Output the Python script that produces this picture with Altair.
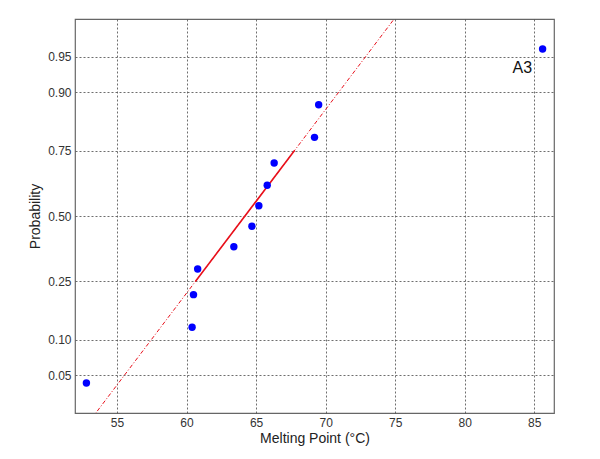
import altair as alt
import pandas as pd
from statistics import NormalDist

nd = NormalDist()

# Data
melting = [52.8, 60.4, 60.5, 60.8, 63.4, 64.7, 65.2, 65.8, 66.3, 69.2, 69.5, 85.6]
prob = [0.042, 0.125, 0.208, 0.292, 0.375, 0.458, 0.542, 0.625, 0.708, 0.792, 0.875, 0.958]
prob_ticks = [0.05, 0.10, 0.25, 0.50, 0.75, 0.90, 0.95]
x_ticks = [55, 60, 65, 70, 75, 80, 85]
x_domain = [51.98, 86.42]
p_domain = [0.0208, 0.9792]
quartile_x = [60.65, 67.75]
quartile_p = [0.25, 0.75]
label_text = ["A3"]
label_x = [84.85]
label_p = [0.931]

z_ticks = [nd.inv_cdf(p) for p in prob_ticks]
z_domain = [nd.inv_cdf(p) for p in p_domain]
qz = [nd.inv_cdf(p) for p in quartile_p]
slope = (qz[1] - qz[0]) / (quartile_x[1] - quartile_x[0])

pts = pd.DataFrame({"x": melting, "z": [nd.inv_cdf(p) for p in prob]})
solid = pd.DataFrame({"x": quartile_x, "z": qz})
ext_x = [min(melting), max(melting)]
dashed = pd.DataFrame({"x": ext_x, "z": [qz[0] + slope * (v - quartile_x[0]) for v in ext_x]})
lab = pd.DataFrame({"x": label_x, "z": [nd.inv_cdf(p) for p in label_p], "t": label_text})

xs = alt.Scale(domain=x_domain, nice=False, zero=False)
ys = alt.Scale(domain=z_domain, nice=False, zero=False)

x_axis = alt.Axis(values=x_ticks, title="Melting Point (°C)", labelPadding=4,
                  titlePadding=3)
y_axis = alt.Axis(values=z_ticks, title="Probability",
                  labelExpr="format(cumulativeNormal(datum.value), '.2f')",
                  labelPadding=4, titlePadding=5)

base_x = alt.X("x:Q", scale=xs, axis=x_axis)
base_y = alt.Y("z:Q", scale=ys, axis=y_axis)

points = alt.Chart(pts).mark_circle(size=55, color="#0000ff", opacity=1).encode(
    x=base_x, y=base_y)

dash_line = alt.Chart(dashed).mark_line(color="#e8101b", strokeWidth=1,
                                        strokeDash=[4, 2, 1, 2], clip=True).encode(
    x=alt.X("x:Q", scale=xs), y=alt.Y("z:Q", scale=ys))

solid_line = alt.Chart(solid).mark_line(color="#e8101b", strokeWidth=1.6).encode(
    x=alt.X("x:Q", scale=xs), y=alt.Y("z:Q", scale=ys))

text = alt.Chart(lab).mark_text(align="right", baseline="alphabetic", fontSize=16,
                                font="Liberation Sans", color="#111").encode(
    x=alt.X("x:Q", scale=xs), y=alt.Y("z:Q", scale=ys), text="t:N")

chart = alt.layer(dash_line, solid_line, points, text).properties(
    width=479, height=394,
    autosize=alt.AutoSizeParams(type="none"),
    padding={"left": 67, "top": 11, "right": 30, "bottom": 40},
).configure_view(
    stroke="#666666", strokeWidth=1.2
).configure_axis(
    grid=True, gridColor="#555555", gridDash=[2, 2], gridWidth=1, gridOpacity=0.85,
    domain=False, ticks=False,
    labelFont="Liberation Sans", labelFontSize=12, labelColor="#333333",
    titleFont="Liberation Sans", titleFontSize=14, titleFontWeight="normal",
    titleColor="#222222"
)

chart.save("out.html", embed_options={"renderer": "svg", "actions": False})
